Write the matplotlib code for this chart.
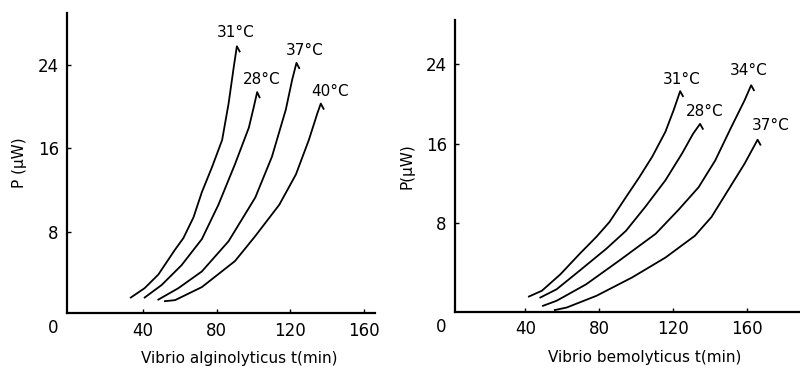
import matplotlib
matplotlib.use("Agg")
import matplotlib.pyplot as plt

# left panel: Vibrio alginolyticus
left_labels = ["31°C", "28°C", "37°C", "40°C"]
left_t = [
    [33.5, 41, 48.4, 57.5, 62, 67.5, 72, 77.5, 83, 86.5, 89.3, 91, 92.5],
    [41, 50.2, 61, 72, 81, 90, 97.5, 100.2, 102, 103.3],
    [48.4, 59.3, 72, 86.5, 101, 110, 117.5, 121, 123.3, 124.8],
    [52, 57.5, 72, 90, 101, 114, 123, 130, 134.7, 136.5, 138],
]
left_p = [
    [1.7, 2.6, 3.9, 6.3, 7.4, 9.4, 11.8, 14.2, 16.8, 20.3, 23.8, 25.8, 25.3],
    [1.7, 2.9, 4.8, 7.3, 10.6, 14.5, 18.0, 20.0, 21.4, 20.9],
    [1.5, 2.6, 4.2, 7.1, 11.3, 15.2, 19.7, 22.6, 24.2, 23.7],
    [1.35, 1.45, 2.7, 5.2, 7.6, 10.6, 13.5, 16.8, 19.4, 20.3, 19.8],
]
left_lab_pos = [(90.5, 27.1), (104.7, 22.6), (128, 25.4), (141.5, 21.5)]

# right panel: Vibrio bemolyticus
right_labels = ["31°C", "28°C", "34°C", "37°C"]
right_t = [
    [42, 49, 59, 69.6, 78.6, 85.7, 94.6, 101.8, 108.9, 116, 120.5, 124, 125.5],
    [48.2, 57, 69.6, 84, 94.6, 105, 116, 125, 131, 134.8, 136.3],
    [49.6, 57, 73, 91, 110.7, 123, 134, 143, 151.8, 159, 162.5, 164],
    [56, 62.5, 78.6, 98, 116, 132, 141, 150, 159, 166, 167.5],
]
right_p = [
    [0.57, 1.15, 2.8, 4.9, 6.6, 8.1, 10.6, 12.6, 14.7, 17.2, 19.4, 21.3, 20.8],
    [0.47, 1.3, 3.2, 5.4, 7.2, 9.6, 12.3, 15.0, 17.0, 18.0, 17.5],
    [-0.37, 0.14, 1.8, 4.2, 6.9, 9.3, 11.6, 14.3, 17.7, 20.4, 21.9, 21.4],
    [-0.8, -0.54, 0.64, 2.5, 4.5, 6.7, 8.6, 11.3, 14.0, 16.4, 15.9],
]
right_lab_pos = [(124.6, 22.5), (137.5, 19.2), (161, 23.4), (173, 17.8)]

x_ticks = [40, 80, 120, 160]
y_ticks = [8, 16, 24]

fig = plt.figure(figsize=(8, 3.68), dpi=100)
ax1 = fig.add_axes([0.084, 0.149, 0.385, 0.816])
ax2 = fig.add_axes([0.569, 0.152, 0.431, 0.794])


def style(ax, xlim, ylim, xlabel, ylabel):
    ax.set_xlim(*xlim)
    ax.set_ylim(*ylim)
    for s in ["top", "right"]:
        ax.spines[s].set_visible(False)
    for s in ["left", "bottom"]:
        ax.spines[s].set_linewidth(1.6)
    ax.set_xticks(x_ticks)
    ax.set_yticks(y_ticks)
    ax.tick_params(direction="in", length=3, width=1, labelsize=12, pad=6)
    ax.set_xlabel(xlabel, fontsize=11, labelpad=12)
    ax.set_ylabel(ylabel, fontsize=11, labelpad=8)
    # shared origin label at the corner
    ax.annotate("0", xy=(0, 0), xycoords="axes fraction", xytext=(-10, -11),
                textcoords="offset points", ha="center", va="center",
                fontsize=12)


for t, p in zip(left_t, left_p):
    ax1.plot(t, p, color="black", lw=1.3)
for lab, (x, y) in zip(left_labels, left_lab_pos):
    ax1.text(x, y, lab, ha="center", va="center", fontsize=11)

for t, p in zip(right_t, right_p):
    ax2.plot(t, p, color="black", lw=1.3)
for lab, (x, y) in zip(right_labels, right_lab_pos):
    ax2.text(x, y, lab, ha="center", va="center", fontsize=11)

style(ax1, (-1, 166), (0.2, 29), "Vibrio alginolyticus t(min)", "P (μW)")
style(ax2, (2, 189), (-1.0, 28.5), "Vibrio bemolyticus t(min)", "P(μW)")
ax1.xaxis.set_label_coords(0.56, -0.125)
ax2.xaxis.set_label_coords(0.55, -0.13)

fig.savefig("out.png", dpi=100)
